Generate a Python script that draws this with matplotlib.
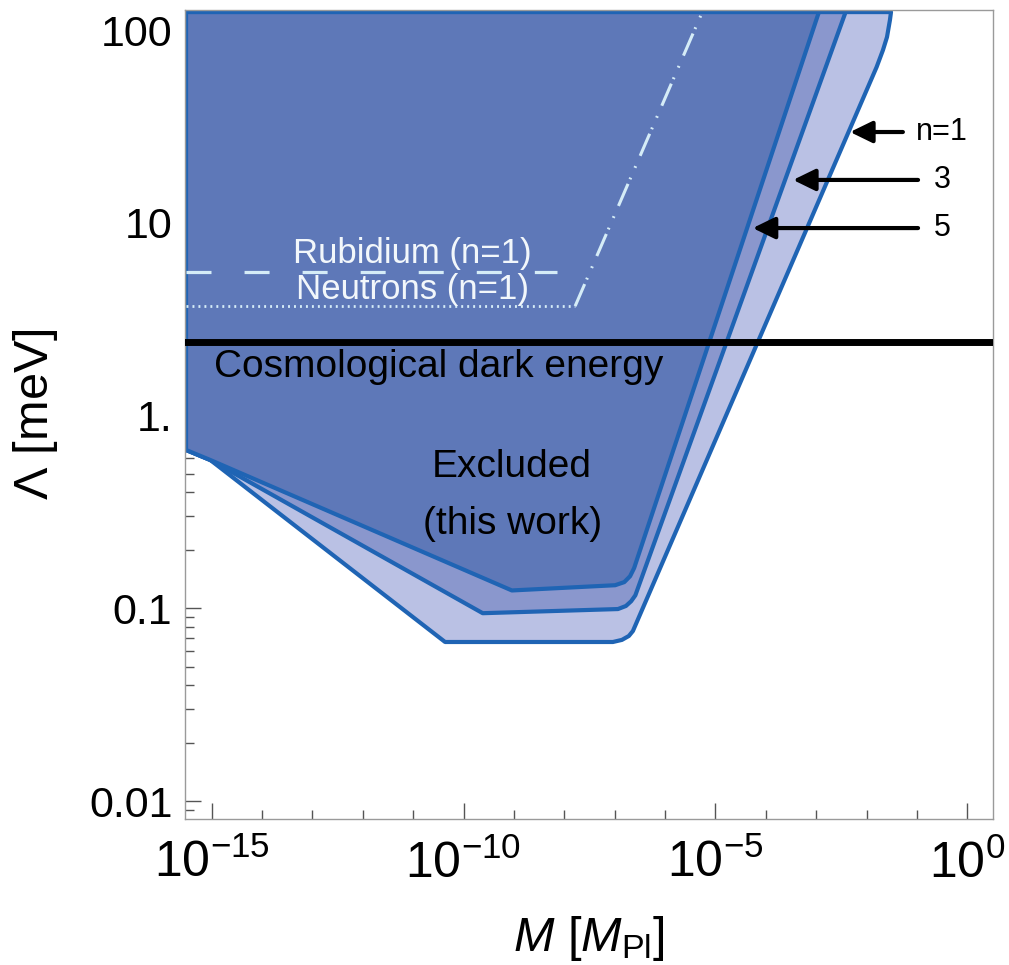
import matplotlib
import matplotlib.pyplot as plt
from matplotlib.ticker import NullFormatter
matplotlib.use('Agg')

plt.rcParams['font.family'] = ['Liberation Sans', 'DejaVu Sans']
plt.rcParams['mathtext.fontset'] = 'custom'
plt.rcParams['mathtext.rm'] = 'Liberation Sans'
plt.rcParams['mathtext.it'] = 'Liberation Sans:italic'
plt.rcParams['lines.scale_dashes'] = False

# axis ranges: M in Planck masses, Lambda in meV
M_RANGE = (10 ** -15.53, 10 ** 0.508)
L_RANGE = (10 ** -2.092, 10 ** 2.104)

# lower / right boundary of the excluded region for n = 1, 3, 5
m_n1 = [3.1e-16, 9.4e-16, 4.3e-11, 9.2e-8, 1.39e-7, 1.91e-7, 2.3e-7,
        0.0158, 0.0211, 0.0254, 0.0291, 0.0305]
lam_n1 = [0.664, 0.589, 0.067, 0.067, 0.0687, 0.072, 0.0764,
          64.3, 78.7, 92.0, 113.0, 124.0]

m_n3 = [3.1e-16, 9.4e-16, 2.4e-10, 1.16e-7, 1.67e-7, 2.12e-7, 2.57e-7, 3.83e-3]
lam_n3 = [0.664, 0.589, 0.0945, 0.0993, 0.103, 0.109, 0.117, 124.0]

m_n5 = [3.1e-16, 9.4e-16, 9.1e-10, 1.02e-7, 1.55e-7, 2.02e-7, 2.43e-7, 1.13e-3]
lam_n5 = [0.664, 0.589, 0.124, 0.132, 0.137, 0.147, 0.162, 124.0]

# earlier bounds (n=1)
m_rubidium = [3.1e-16, 7.2e-9]
lam_rubidium = 5.57
m_neutron = [3.1e-16, 1.64e-8]
lam_neutron = 3.70
m_neutron_rise = [1.64e-8, 5.7e-6]
lam_neutron_rise = [3.70, 127.0]

lam_dark_energy = 2.4

# arrows to the boundaries: label, tip (M, Lambda), tail M, label M
arrow_labels = ['n=1', '3', '5']
arrow_tip_m = [4.7e-3, 3.47e-4, 5.5e-5]
arrow_lam = [29.6, 16.7, 9.4]
arrow_tail_m = [0.0525, 0.105, 0.105]
arrow_text_m = 0.316

FILL_COLORS = ['#bac1e4', '#8a97cd', '#5e78b8']
EDGE = '#1f64b4'
LIGHT = '#d5ecf7'

fig = plt.figure(figsize=(10.09, 9.65), dpi=100)
ax = fig.add_axes([0.1833, 0.1513, 0.8008, 0.8383])
ax.set_xscale('log')
ax.set_yscale('log')

# nested excluded regions, widest first
for m, lam, fc in zip([m_n1, m_n3, m_n5], [lam_n1, lam_n3, lam_n5], FILL_COLORS):
    xs = m + [m[0]]
    ys = lam + [lam[-1]]
    ax.fill(xs, ys, facecolor=fc, edgecolor=EDGE, linewidth=3.0,
            joinstyle='round', zorder=2)

ax.plot(m_rubidium, [lam_rubidium] * 2, color=LIGHT, lw=2.3,
        dashes=(18, 23.8), zorder=3)
ax.plot(m_neutron, [lam_neutron] * 2, color=LIGHT, lw=2.0,
        dashes=(1.4, 2.9), zorder=3)
ax.plot(m_neutron_rise, lam_neutron_rise, color=LIGHT, lw=2.2,
        dashes=(17.3, 3.6, 1.3, 7.7, 1.3, 8.1), zorder=3)

ax.axhline(lam_dark_energy, color='black', lw=5, zorder=4)

ax.text(9.5e-12, 6.19, 'Rubidium (n=1)', color='#f2f7fb', fontsize=25,
        ha='center', va='baseline', zorder=5)
ax.text(9.5e-12, 4.03, 'Neutrons (n=1)', color='#f2f7fb', fontsize=25,
        ha='center', va='baseline', zorder=5)
ax.text(3.2e-11, 1.59, 'Cosmological dark energy', color='black', fontsize=28,
        ha='center', va='baseline', zorder=5)
ax.text(9.2e-10, 0.482, 'Excluded', color='black', fontsize=28,
        ha='center', va='baseline', zorder=5)
ax.text(9.2e-10, 0.243, '(this work)', color='black', fontsize=28,
        ha='center', va='baseline', zorder=5)

for label, tip, lam, tail in zip(arrow_labels, arrow_tip_m, arrow_lam, arrow_tail_m):
    ax.annotate('', xy=(tip, lam), xytext=(tail, lam),
                arrowprops=dict(arrowstyle='-|>,head_length=0.45,head_width=0.22',
                                mutation_scale=30, lw=3.0, color='black',
                                shrinkA=0, shrinkB=0), zorder=5)
    ax.text(arrow_text_m, lam, label, fontsize=22, ha='center', va='center',
            zorder=5)

ax.set_xlim(*M_RANGE)
ax.set_ylim(*L_RANGE)

ax.set_xticks([1e-15, 1e-10, 1e-5, 1.0],
              [r'$10^{-15}$', r'$10^{-10}$', r'$10^{-5}$', r'$10^{0}$'])
ax.set_xticks([10.0 ** k for k in range(-15, 1) if k % 5 != 0], minor=True)
ax.set_yticks([0.01, 0.1, 1, 10, 100], ['0.01', '0.1', '1.', '10', '100'])
ax.set_yticks([d * 10.0 ** e for e in range(-3, 3) for d in range(2, 10)
               if L_RANGE[0] < d * 10.0 ** e < L_RANGE[1]], minor=True)
ax.xaxis.set_minor_formatter(NullFormatter())
ax.yaxis.set_minor_formatter(NullFormatter())

ax.tick_params(which='both', direction='in', top=False, right=False,
               color='#555555', width=1)
ax.tick_params(which='major', length=11.5)
ax.tick_params(which='minor', length=6.5)
ax.tick_params(axis='y', pad=9, labelsize=31)
ax.tick_params(axis='x', pad=15, labelsize=36)

for sp in ax.spines.values():
    sp.set_color('#9a9a9a')
    sp.set_linewidth(1)

ax.set_xlabel(r'$M$ [$M_{\mathrm{Pl}}$]', fontsize=35)
ax.set_ylabel(r'$\Lambda$ [meV]', fontsize=35)
ax.xaxis.set_label_coords(0.5, -0.118)
ax.yaxis.set_label_coords(-0.155, 0.5)

fig.savefig('out.png', dpi=100)
